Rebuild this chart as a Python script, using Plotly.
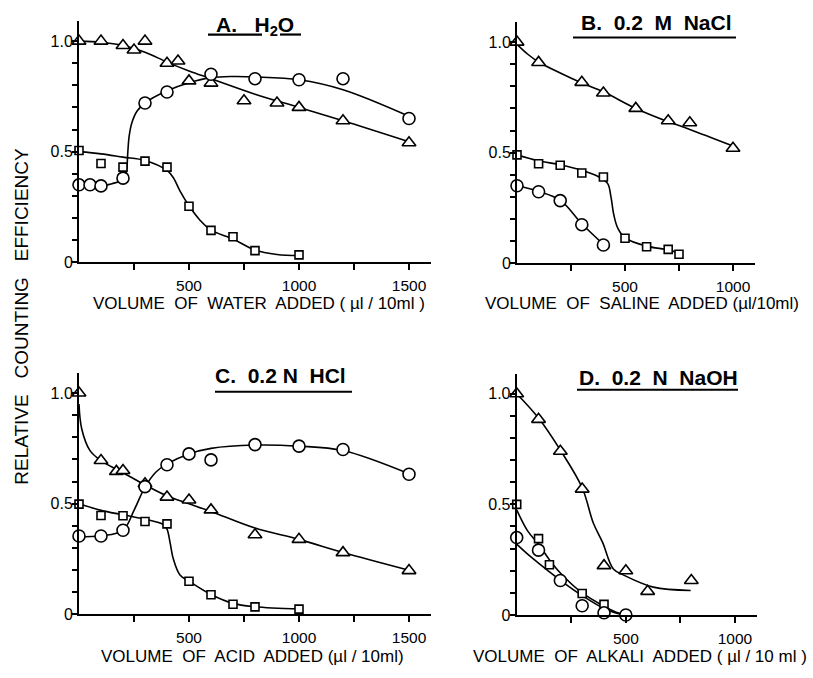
import plotly.graph_objects as go

W, H = 813, 678

# ---------------- Panel A: H2O ----------------
A_tri_x = [0, 100, 200, 250, 300, 400, 450, 500, 600, 750, 900, 1000, 1200, 1500]
A_tri_y = [1.0, 1.0, 0.98, 0.96, 1.0, 0.90, 0.91, 0.82, 0.81, 0.73, 0.72, 0.70, 0.64, 0.54]
A_cir_x = [0, 50, 100, 200, 300, 400, 600, 800, 1000, 1200, 1500]
A_cir_y = [0.35, 0.35, 0.345, 0.38, 0.72, 0.77, 0.85, 0.83, 0.825, 0.83, 0.65]
A_sq_x = [0, 100, 200, 300, 400, 500, 600, 700, 800, 1000]
A_sq_y = [0.505, 0.446, 0.43, 0.457, 0.43, 0.253, 0.144, 0.115, 0.052, 0.033]
A_fit_tri_x = [0, 100, 200, 300, 400, 500, 600, 800, 1000, 1200, 1500]
A_fit_tri_y = [1.0, 0.995, 0.98, 0.95, 0.905, 0.865, 0.83, 0.76, 0.70, 0.64, 0.545]
A_fit_cir_x = [0, 50, 100, 150, 200, 212, 218, 222, 228, 240, 265, 300, 400, 500, 600, 700, 800, 1000, 1200, 1500]
A_fit_cir_y = [0.35, 0.348, 0.345, 0.355, 0.372, 0.39, 0.43, 0.50, 0.57, 0.63, 0.685, 0.72, 0.775, 0.812, 0.835, 0.84, 0.838, 0.825, 0.78, 0.66]
A_fit_sq_x = [0, 100, 200, 300, 400, 430, 460, 500, 550, 600, 700, 800, 900, 1000]
A_fit_sq_y = [0.50, 0.49, 0.475, 0.46, 0.415, 0.38, 0.32, 0.255, 0.19, 0.145, 0.105, 0.055, 0.035, 0.03]

# ---------------- Panel B: 0.2 M NaCl ----------------
B_tri_x = [0, 100, 300, 400, 550, 700, 800, 1000]
B_tri_y = [1.0, 0.908, 0.818, 0.77, 0.70, 0.644, 0.635, 0.52]
B_sq_x = [0, 100, 200, 300, 400, 500, 600, 700, 750]
B_sq_y = [0.49, 0.45, 0.443, 0.408, 0.39, 0.113, 0.074, 0.0625, 0.04]
B_cir_x = [0, 100, 200, 300, 400]
B_cir_y = [0.35, 0.323, 0.283, 0.174, 0.082]
B_fit_tri_x = [0, 50, 100, 200, 300, 400, 550, 700, 800, 1000]
B_fit_tri_y = [0.99, 0.945, 0.91, 0.86, 0.815, 0.775, 0.70, 0.64, 0.605, 0.53]
B_fit_sq_x = [0, 100, 200, 300, 380, 420, 435, 448, 466, 500, 600, 700, 750]
B_fit_sq_y = [0.49, 0.463, 0.445, 0.42, 0.39, 0.36, 0.30, 0.22, 0.16, 0.115, 0.077, 0.06, 0.045]
B_fit_cir_x = [0, 100, 200, 300, 400]
B_fit_cir_y = [0.35, 0.325, 0.285, 0.178, 0.085]

# ---------------- Panel C: 0.2 N HCl ----------------
C_tri_x = [0, 100, 170, 200, 300, 400, 500, 600, 800, 1000, 1200, 1500]
C_tri_y = [1.0, 0.695, 0.646, 0.65, 0.59, 0.53, 0.517, 0.472, 0.36, 0.339, 0.279, 0.198]
C_cir_x = [0, 100, 200, 300, 400, 500, 600, 800, 1000, 1200, 1500]
C_cir_y = [0.354, 0.354, 0.38, 0.577, 0.676, 0.725, 0.698, 0.767, 0.76, 0.745, 0.633]
C_sq_x = [0, 100, 200, 300, 400, 500, 600, 700, 800, 1000]
C_sq_y = [0.498, 0.447, 0.446, 0.42, 0.409, 0.15, 0.089, 0.046, 0.034, 0.024]
C_fit_tri_x = [0, 12, 50, 100, 200, 300, 400, 500, 600, 800, 1000, 1200, 1500]
C_fit_tri_y = [0.95, 0.84, 0.74, 0.695, 0.64, 0.585, 0.535, 0.50, 0.465, 0.39, 0.339, 0.28, 0.20]
C_fit_cir_x = [0, 100, 200, 250, 300, 350, 400, 500, 600, 800, 1000, 1200, 1500]
C_fit_cir_y = [0.35, 0.355, 0.38, 0.47, 0.575, 0.643, 0.68, 0.725, 0.75, 0.765, 0.76, 0.74, 0.635]
C_fit_sq_x = [0, 100, 200, 300, 383, 400, 414, 429, 459, 500, 600, 700, 800, 1000]
C_fit_sq_y = [0.50, 0.47, 0.45, 0.43, 0.406, 0.385, 0.324, 0.25, 0.178, 0.15, 0.09, 0.05, 0.035, 0.025]

# ---------------- Panel D: 0.2 N NaOH ----------------
D_tri_x = [0, 100, 200, 300, 400, 500, 600, 800]
D_tri_y = [1.0, 0.884, 0.74, 0.569, 0.223, 0.20, 0.107, 0.156]
D_sq_x = [0, 100, 150, 300, 400]
D_sq_y = [0.50, 0.345, 0.227, 0.097, 0.048]
D_cir_x = [0, 100, 200, 300, 400, 500]
D_cir_y = [0.35, 0.293, 0.156, 0.042, 0.01, 0.0]
D_fit_tri_x = [0, 100, 200, 300, 351, 394, 443, 495, 626, 797]
D_fit_tri_y = [1.0, 0.89, 0.745, 0.575, 0.416, 0.327, 0.208, 0.178, 0.126, 0.111]
D_fit_sq_x = [0, 50, 100, 150, 200, 300, 400, 450, 500]
D_fit_sq_y = [0.475, 0.38, 0.32, 0.25, 0.19, 0.10, 0.04, 0.015, 0.0]
D_fit_cir_x = [0, 50, 100, 150, 200, 300, 400, 450, 500]
D_fit_cir_y = [0.32, 0.275, 0.235, 0.195, 0.157, 0.088, 0.03, 0.01, 0.0]

Y_TICKS = [0, 0.1, 0.2, 0.3, 0.4, 0.5, 0.6, 0.7, 0.8, 0.9, 1.0]
Y_TEXT = ["0", "", "", "", "", "0.5", "", "", "", "", "1.0"]

TITLES = ["A.   H<sub>2</sub>O", "B.  0.2  M  NaCl", "C.  0.2 N  HCl", "D.  0.2  N  NaOH"]
XTITLES = ["VOLUME  OF  WATER  ADDED ( µl / 10ml )",
           "VOLUME  OF  SALINE  ADDED (µl/10ml)",
           "VOLUME  OF  ACID  ADDED (µl / 10ml)",
           "VOLUME  OF  ALKALI  ADDED ( µl / 10 ml )"]
YTITLE = "RELATIVE   COUNTING   EFFICIENCY"

FONT = "Liberation Sans, Arial, sans-serif"
fig = go.Figure()

panels = [
    ("x", "y", [(A_fit_tri_x, A_fit_tri_y), (A_fit_cir_x, A_fit_cir_y), (A_fit_sq_x, A_fit_sq_y)],
     [(A_tri_x, A_tri_y, "triangle-up"), (A_cir_x, A_cir_y, "circle"), (A_sq_x, A_sq_y, "square")]),
    ("x2", "y2", [(B_fit_tri_x, B_fit_tri_y), (B_fit_sq_x, B_fit_sq_y), (B_fit_cir_x, B_fit_cir_y)],
     [(B_tri_x, B_tri_y, "triangle-up"), (B_sq_x, B_sq_y, "square"), (B_cir_x, B_cir_y, "circle")]),
    ("x3", "y3", [(C_fit_tri_x, C_fit_tri_y), (C_fit_cir_x, C_fit_cir_y), (C_fit_sq_x, C_fit_sq_y)],
     [(C_tri_x, C_tri_y, "triangle-up"), (C_cir_x, C_cir_y, "circle"), (C_sq_x, C_sq_y, "square")]),
    ("x4", "y4", [(D_fit_tri_x, D_fit_tri_y), (D_fit_sq_x, D_fit_sq_y), (D_fit_cir_x, D_fit_cir_y)],
     [(D_tri_x, D_tri_y, "triangle-up"), (D_sq_x, D_sq_y, "square"), (D_cir_x, D_cir_y, "circle")]),
]

SIZES = {"triangle-up": 12, "circle": 12, "square": 8}

for xa, ya, fits, marks in panels:
    for fx, fy in fits:
        fig.add_trace(go.Scatter(x=fx, y=fy, mode="lines", xaxis=xa, yaxis=ya,
                                 line=dict(color="black", width=1.6, shape="spline", smoothing=1.0),
                                 cliponaxis=False, showlegend=False, hoverinfo="skip"))
    for mx, my, sym in marks:
        fig.add_trace(go.Scatter(x=mx, y=my, mode="markers", xaxis=xa, yaxis=ya,
                                 marker=dict(symbol=sym, size=SIZES[sym], color="white",
                                             line=dict(color="black", width=1.6)),
                                 cliponaxis=False, showlegend=False))

def px_x(p):
    return p / W

def px_y(p):
    return 1 - p / H

dom = {
    "A": dict(x=[79, 431], y=[265.7, 21.5], xr=[0, 1600], xt=[250, 500, 750, 1000, 1250, 1500],
              xtt=["", "500", "", "1000", "", "1500"]),
    "B": dict(x=[517, 754.6], y=[266.7, 22.5], xr=[0, 1100], xt=[250, 500, 750, 1000],
              xtt=["", "500", "", "1000"]),
    "C": dict(x=[79, 431], y=[622.7, 378.1], xr=[0, 1600], xt=[250, 500, 750, 1000, 1250, 1500],
              xtt=["", "500", "", "1000", "", "1500"]),
    "D": dict(x=[516.7, 756.8], y=[623.3, 378.8], xr=[0, 1100], xt=[250, 500, 750, 1000],
              xtt=["", "500", "", "1000"]),
}

layout = dict(width=W, height=H, margin=dict(l=0, r=0, t=0, b=0),
              paper_bgcolor="white", plot_bgcolor="white",
              font=dict(family=FONT, color="black", size=16))

for i, key in enumerate(["A", "B", "C", "D"]):
    d = dom[key]
    sx = "" if i == 0 else str(i + 1)
    layout["xaxis" + sx] = dict(domain=[px_x(d["x"][0]), px_x(d["x"][1])], range=d["xr"],
                                anchor="y" + sx, showline=True, linecolor="black", linewidth=2,
                                ticks="outside", ticklen=6, tickwidth=1.5, tickcolor="black",
                                tickvals=d["xt"], ticktext=d["xtt"], showgrid=False, zeroline=False,
                                ticklabelstandoff=2, tickfont=dict(size=15.5, family=FONT))
    layout["yaxis" + sx] = dict(domain=[px_y(d["y"][0]), px_y(d["y"][1])], range=[0, 1.09],
                                anchor="x" + sx, showline=True, linecolor="black", linewidth=2,
                                ticks="outside", ticklen=5, tickwidth=1.5, tickcolor="black",
                                tickvals=Y_TICKS, ticktext=Y_TEXT, showgrid=False, zeroline=False,
                                ticklabelstandoff=-4, tickfont=dict(size=16, family=FONT))

fig.update_layout(**layout)

ann = []
shapes = []
title_pos = [(255, 26), (656, 23), (280, 381), (658, 383)]
underlines = [[(208, 262, 35), (280, 301, 35)], [(573, 736, 38)], [(215, 352, 397)], [(577, 738, 395)]]
xtitle_pos = [(259, 308), (642, 308), (252, 665), (640, 665)]

for i in range(4):
    tx, ty = title_pos[i]
    ann.append(dict(x=px_x(tx), y=px_y(ty), xref="paper", yref="paper", text="<b>" + TITLES[i] + "</b>",
                    showarrow=False, xanchor="center", yanchor="middle",
                    font=dict(size=21, family=FONT, color="black")))
    for x0, x1, yy in underlines[i]:
        shapes.append(dict(type="line", xref="paper", yref="paper", x0=px_x(x0), x1=px_x(x1),
                           y0=px_y(yy), y1=px_y(yy), line=dict(color="black", width=2.2)))
    ax_, ay_ = xtitle_pos[i]
    ann.append(dict(x=px_x(ax_), y=px_y(ay_), xref="paper", yref="paper", text=XTITLES[i],
                    showarrow=False, xanchor="center", yanchor="middle",
                    font=dict(size=17, family=FONT, color="black")))

ann.append(dict(x=px_x(22), y=px_y(321), xref="paper", yref="paper", text=YTITLE, textangle=-90,
                showarrow=False, xanchor="center", yanchor="middle",
                font=dict(size=19, family=FONT, color="black")))

fig.update_layout(annotations=ann, shapes=shapes)
fig.write_html("out.html", config={"displayModeBar": False},
               post_script="document.body.style.margin='0';document.body.style.overflow='hidden';")
